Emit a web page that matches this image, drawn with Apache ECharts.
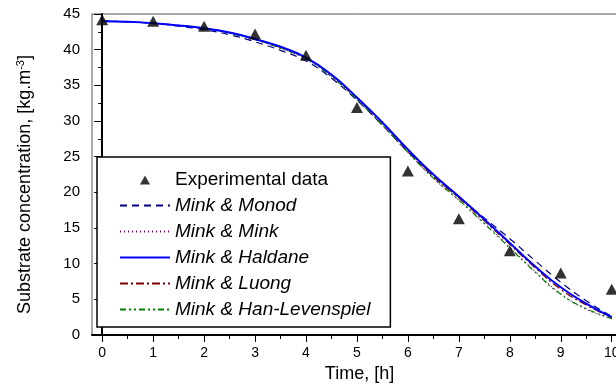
<!DOCTYPE html>
<html>
<head>
<meta charset="utf-8">
<script src="https://cdn.jsdelivr.net/npm/echarts@6/dist/echarts.min.js"></script>
<style>
  html, body { margin: 0; padding: 0; background: #fff; overflow: hidden; }
  #chart { width: 640px; height: 391px; }
</style>
</head>
<body>
<div id="chart"></div>
<script>
// experimental points
var timeExp = [0, 1, 2, 3, 4, 5, 6, 7, 8, 9, 10];
var expData = [44.2, 44.0, 43.3, 42.2, 39.2, 31.9, 23.0, 16.3, 11.8, 8.7, 6.4];

// model curves, read every half hour
var timeModel = [0, 0.5, 1, 1.5, 2, 2.5, 3, 3.5, 4, 4.5, 5, 5.5, 6, 6.5, 7, 7.5, 8, 8.5, 9, 9.5, 10];
var minkMonod = [44.0, 43.9, 43.7, 43.3, 42.8, 42.1, 41.1, 39.9, 38.4, 36.0, 32.9, 29.4, 25.7, 22.2, 19.3, 16.4, 13.5, 10.4, 7.4, 4.8, 2.6];
var minkMink = [44.0, 43.9, 43.7, 43.4, 43.0, 42.3, 41.4, 40.2, 38.7, 36.2, 33.0, 29.4, 25.6, 22.0, 18.9, 15.7, 12.3, 8.9, 5.8, 3.6, 2.3];
var minkHaldane = [44.0, 43.9, 43.7, 43.4, 43.0, 42.4, 41.5, 40.4, 38.9, 36.5, 33.3, 29.8, 26.0, 22.5, 19.4, 16.2, 12.9, 9.6, 6.7, 4.4, 2.5];
var minkLuong = [44.0, 43.9, 43.7, 43.4, 43.0, 42.4, 41.5, 40.3, 38.8, 36.4, 33.2, 29.7, 25.9, 22.3, 19.2, 16.0, 12.7, 9.4, 6.4, 4.2, 2.4];
var minkHanLev = [44.0, 43.9, 43.7, 43.4, 43.0, 42.3, 41.4, 40.2, 38.7, 36.2, 33.0, 29.4, 25.6, 22.0, 18.9, 15.6, 12.2, 8.8, 5.7, 3.7, 2.3];

// tick positions
var xMajorTicks = [0, 1, 2, 3, 4, 5, 6, 7, 8, 9, 10];
var xMinorTicks = [0.5, 1.5, 2.5, 3.5, 4.5, 5.5, 6.5, 7.5, 8.5, 9.5];

var FONT = "Liberation Sans, Arial, sans-serif";

function pairs(xs, ys) {
  return xs.map(function (x, i) { return [x, ys[i]]; });
}

function modelSeries(name, data, color, type, width, z) {
  return {
    name: name,
    type: "line",
    data: pairs(timeModel, data),
    smooth: true,
    symbol: "none",
    lineStyle: { color: color, width: width, type: type },
    itemStyle: { color: color },
    z: z,
  };
}

// legend entry for a model line: line only, no marker
function lineEntry(name) {
  return { name: name, itemStyle: { opacity: 0 }, textStyle: { fontStyle: "italic" } };
}

// small triangle kept in the middle of the 50x10 legend slot (the move-tos pin the box)
var legendTriangle = "path://M0,0M20,10L25,1L30,10ZM50,10";

var chart = echarts.init(document.getElementById("chart"), null, { renderer: "canvas" });

var option = {
  animation: false,
  textStyle: { fontFamily: FONT },
  grid: {
    left: 92,
    top: 14,
    width: 535,
    height: 321,
    show: true,
    borderColor: "#555",
    borderWidth: 1,
    backgroundColor: "transparent",
  },
  legend: {
    orient: "vertical",
    left: 97,
    top: 157,
    padding: [13, 20, 8, 22],
    borderColor: "#000",
    borderWidth: 1.5,
    backgroundColor: "#fff",
    itemWidth: 50,
    itemHeight: 10,
    itemGap: 7,
    textStyle: { fontFamily: FONT, fontSize: 19, color: "#000" },
    data: [
      { name: "Experimental data", icon: legendTriangle, textStyle: { fontStyle: "normal" } },
      lineEntry("Mink & Monod"),
      lineEntry("Mink & Mink"),
      lineEntry("Mink & Haldane"),
      lineEntry("Mink & Luong"),
      lineEntry("Mink & Han-Levenspiel"),
    ],
  },
  xAxis: [
    {
      type: "value",
      min: -0.2,
      max: 10.3,
      position: "bottom",
      name: "Time, [h]",
      nameLocation: "middle",
      nameGap: 30,
      nameTextStyle: { fontFamily: FONT, fontSize: 18, color: "#000" },
      axisLine: { show: true, onZero: false, lineStyle: { color: "#000", width: 2 } },
      axisTick: { show: true, length: 7, customValues: xMajorTicks, lineStyle: { color: "#000", width: 1 } },
      axisLabel: { customValues: xMajorTicks, margin: 11, fontFamily: FONT, fontSize: 14, color: "#000" },
      splitLine: { show: false },
    },
    {
      type: "value",
      min: -0.2,
      max: 10.3,
      position: "bottom",
      axisLine: { show: false },
      axisTick: { show: true, length: 4, customValues: xMinorTicks, lineStyle: { color: "#000", width: 1 } },
      axisLabel: { show: false },
      splitLine: { show: false },
    },
  ],
  yAxis: {
    type: "value",
    min: 0,
    max: 45,
    interval: 5,
    name: "Substrate concentration, [kg.m{sup|-3}]",
    nameLocation: "middle",
    nameGap: 56,
    nameTextStyle: {
      fontFamily: FONT,
      fontSize: 18,
      color: "#000",
      padding: [0, 20, 0, 0],
      rich: { sup: { fontFamily: FONT, fontSize: 11, color: "#000", verticalAlign: "top", padding: [0, 0, 10, 0] } },
    },
    axisLine: { show: true, lineStyle: { color: "#000", width: 2 } },
    axisTick: { show: true, length: 8, lineStyle: { color: "#000", width: 1 } },
    minorTick: { show: true, splitNumber: 2, length: 4, lineStyle: { color: "#000", width: 1 } },
    axisLabel: { margin: 12, fontFamily: FONT, fontSize: 15, color: "#000" },
    splitLine: { show: false },
  },
  series: [
    modelSeries("Mink & Monod", minkMonod, "#000080", [7, 5], 1.2, 2),
    modelSeries("Mink & Mink", minkMink, "#800080", [1, 3], 1.2, 2),
    modelSeries("Mink & Luong", minkLuong, "#800000", [8, 3, 2, 3], 1.2, 3),
    modelSeries("Mink & Han-Levenspiel", minkHanLev, "#008000", [6, 3, 2, 3, 2, 3], 1.2, 3),
    modelSeries("Mink & Haldane", minkHaldane, "#0000ff", "solid", 2, 4),
    {
      name: "Experimental data",
      type: "scatter",
      data: pairs(timeExp, expData),
      symbol: "triangle",
      symbolSize: [12, 11],
      itemStyle: { color: "#000" },
      z: 6,
    },
  ],
};

chart.setOption(option);
</script>
</body>
</html>
